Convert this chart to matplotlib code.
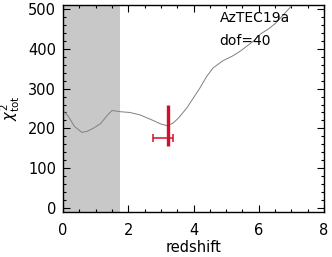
import matplotlib
matplotlib.use('Agg')
import matplotlib.pyplot as plt
from matplotlib.ticker import MultipleLocator

# chi^2 curve
z = [0.0, 0.15, 0.35, 0.58, 0.75, 0.92, 1.15, 1.35, 1.5, 1.75, 2.05, 2.36, 2.76, 3.0, 3.19,
     3.37, 3.55, 3.8, 4.0, 4.2, 4.4, 4.6, 4.9, 5.2, 5.45, 5.64, 5.85, 6.05, 6.3, 6.5, 6.75, 7.05]
chi2 = [244, 232, 205, 190, 193, 200, 212, 232, 245, 242, 240, 234, 220, 211, 207,
        213, 227, 252, 277, 302, 330, 352, 370, 382, 395, 407, 420, 437, 450, 463, 485, 512]

# photometric redshift estimate
z_best = 3.22
z_lo, z_hi = 2.75, 3.37
chi2_mark = 175
bar_lo, bar_hi = 155, 260

excluded = (0, 1.75)

fig = plt.figure(figsize=(3.32, 2.57), dpi=100)
ax = fig.add_axes([63/332, 45/257, 261/332, 207/257])

ax.axvspan(excluded[0], excluded[1], color='#c8c8c8', lw=0, zorder=0)
ax.plot(z, chi2, color='#808080', lw=0.7)
ax.plot([z_best, z_best], [bar_lo, bar_hi], color='#d0102a', lw=2.4, solid_capstyle='butt')
ax.errorbar([z_best], [chi2_mark], xerr=[[z_best - z_lo], [z_hi - z_best]],
            fmt='none', ecolor='#d0102a', elinewidth=1.1, capsize=3, capthick=1.1)

ax.text(0.6, 0.97, 'AzTEC19a', transform=ax.transAxes, fontsize=10, va='top', ha='left')
ax.text(0.6, 0.86, 'dof=40', transform=ax.transAxes, fontsize=10, va='top', ha='left')

ax.set_xlim(0, 8)
ax.set_ylim(-10, 510)
ax.xaxis.set_major_locator(MultipleLocator(2))
ax.xaxis.set_minor_locator(MultipleLocator(0.5))
ax.yaxis.set_major_locator(MultipleLocator(100))
ax.yaxis.set_minor_locator(MultipleLocator(20))
ax.tick_params(which='both', direction='in', top=True, right=True, labelsize=10.5, width=0.8)
ax.tick_params(which='major', length=5)
ax.tick_params(which='minor', length=2.5)
ax.tick_params(axis='x', pad=8)
ax.tick_params(axis='y', pad=5)
ax.set_xlabel('redshift', fontsize=10.5, labelpad=1)
ax.set_ylabel(r'$\chi^2_{\rm tot}$', fontsize=10.5, labelpad=4)
for s in ax.spines.values():
    s.set_linewidth(1.0)

fig.savefig('out.png', dpi=100)
